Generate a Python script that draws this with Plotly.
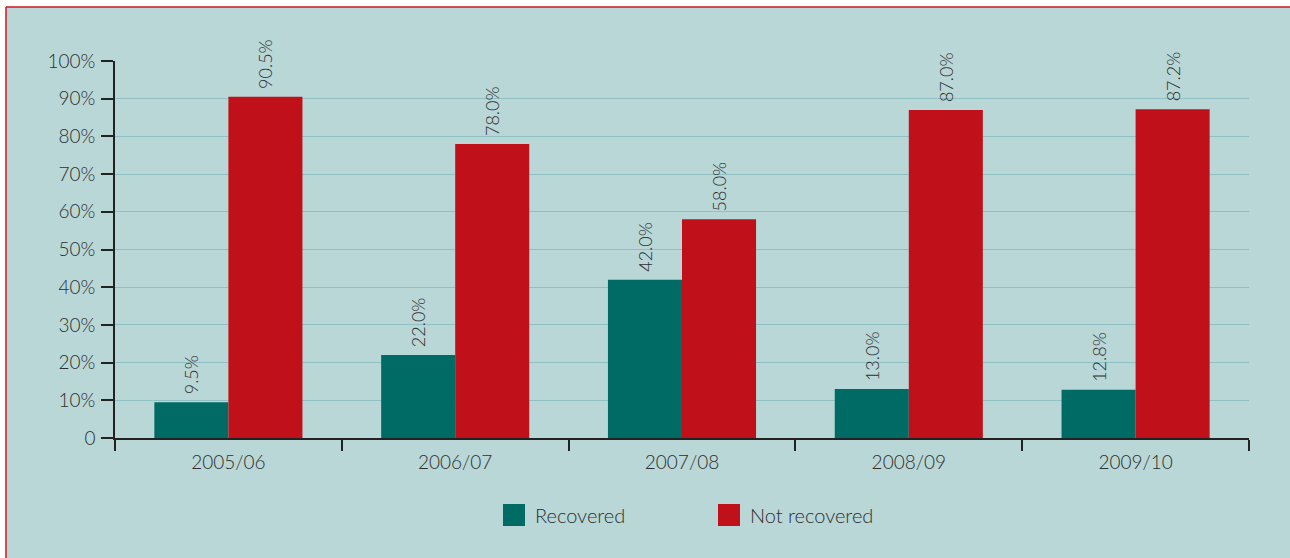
import plotly.graph_objects as go

# Share of cases per year
years = ["2005/06", "2006/07", "2007/08", "2008/09", "2009/10"]
recovered = [9.5, 22.0, 42.0, 13.0, 12.8]
not_recovered = [90.5, 78.0, 58.0, 87.0, 87.2]
series_names = ["Recovered", "Not recovered"]
y_ticks = [0, 10, 20, 30, 40, 50, 60, 70, 80, 90, 100]
y_tick_labels = ["0"] + [f"{v}%" for v in y_ticks[1:]]

GREEN = "#006b64"
RED = "#c0111a"
PANEL = "#b9d7d7"
BORDER = "#d2141d"
TEXT = "#2e2e2e"
FONT = "Lato"
WEIGHT = 300

W, H = 1290, 558
L, R, T, B = 115, 41, 61, 120
PW, PH = W - L - R, H - T - B


def px_x(x):
    return (x - L) / PW


def px_y(y):
    return (H - B - y) / PH


fig = go.Figure()
for name, vals, col in [(series_names[0], recovered, GREEN),
                        (series_names[1], not_recovered, RED)]:
    fig.add_trace(go.Bar(
        x=years, y=vals, name=name, marker_color=col, marker_line_width=0,
        # leading space keeps the rotated label clear of the bar top
        text=[f" {v:.1f}%" for v in vals], textposition="outside",
        textangle=-90, constraintext="none", cliponaxis=False,
        textfont=dict(family=FONT, size=18, color=TEXT, weight=WEIGHT),
        showlegend=False,
    ))

shapes = [
    # panel background with red top/left rule
    dict(type="rect", xref="paper", yref="paper", layer="below",
         x0=px_x(6), x1=px_x(W + 5), y0=px_y(H + 5), y1=px_y(7),
         fillcolor=PANEL, line_width=0),
    dict(type="line", xref="paper", yref="paper",
         x0=px_x(6), x1=px_x(W + 5), y0=px_y(7), y1=px_y(7),
         line=dict(color=BORDER, width=1.5)),
    dict(type="line", xref="paper", yref="paper",
         x0=px_x(6), x1=px_x(6), y0=px_y(7), y1=px_y(H + 5),
         line=dict(color=BORDER, width=1.5)),
]

annotations = []
legend_items = [(series_names[0], GREEN, 503), (series_names[1], RED, 718)]
for name, col, x0 in legend_items:
    shapes.append(dict(type="rect", xref="paper", yref="paper",
                       x0=px_x(x0), x1=px_x(x0 + 22),
                       y0=px_y(526), y1=px_y(504),
                       fillcolor=col, line_width=0))
    annotations.append(dict(xref="paper", yref="paper", x=px_x(x0 + 30),
                            y=px_y(515), text=name, showarrow=False,
                            xanchor="left", yanchor="middle",
                            font=dict(family=FONT, size=20, color=TEXT,
                                      weight=WEIGHT)))

fig.update_layout(
    width=W, height=H,
    margin=dict(l=L, r=R, t=T, b=B, pad=0),
    paper_bgcolor="white", plot_bgcolor="rgba(0,0,0,0)",
    barmode="group", bargap=0.347, bargroupgap=0,
    font=dict(family=FONT, color=TEXT, weight=WEIGHT),
    shapes=shapes, annotations=annotations,
    xaxis=dict(
        showline=True, linecolor="#222", linewidth=1.5,
        ticks="outside", tickson="boundaries", ticklen=11,
        tickcolor="#222", tickwidth=1.5, ticklabelstandoff=6,
        tickfont=dict(family=FONT, size=19, color=TEXT, weight=WEIGHT),
        showgrid=False,
    ),
    yaxis=dict(
        range=[0, 100], tickvals=y_ticks, ticktext=y_tick_labels,
        showline=True, linecolor="#222", linewidth=1.5,
        ticks="outside", ticklen=12, tickcolor="#222", tickwidth=1.5,
        ticklabelstandoff=2,
        tickfont=dict(family=FONT, size=19, color=TEXT, weight=WEIGHT),
        showgrid=True, gridcolor="#8fc0c3", gridwidth=1.2,
        zeroline=False,
    ),
)

fig.write_html("out.html")
